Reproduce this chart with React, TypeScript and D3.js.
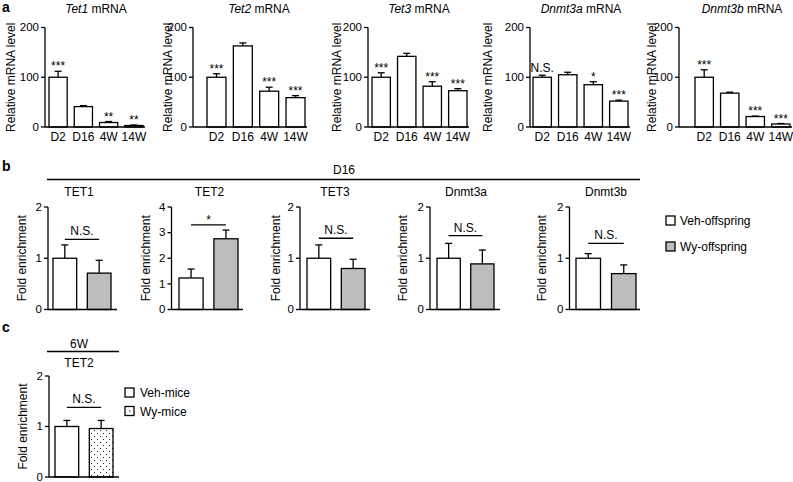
import React from "react";
import * as d3 from "d3";

// ---------- Panel a: mRNA levels ----------
const timepoints = ["D2", "D16", "4W", "14W"];
const mrnaGenes = ["Tet1", "Tet2", "Tet3", "Dnmt3a", "Dnmt3b"];
const tet1Mean = [100, 41, 9, 3];
const tet1Err = [12, 2, 2, 1];
const tet2Mean = [100, 163, 72, 59];
const tet2Err = [7, 6, 8, 4];
const tet3Mean = [100, 142, 82, 73];
const tet3Err = [9, 6, 9, 4];
const dnmt3aMean = [100, 105, 85, 52];
const dnmt3aErr = [4, 5, 6, 2];
const dnmt3bMean = [100, 68, 21, 6];
const dnmt3bErr = [15, 2, 1, 1];
const tet1Sig = ["***", "", "**", "**"];
const tet2Sig = ["***", "", "***", "***"];
const tet3Sig = ["***", "", "***", "***"];
const dnmt3aSig = ["N.S.", "", "*", "***"];
const dnmt3bSig = ["***", "", "***", "***"];
const mrnaTicks = [0, 100, 200];

// ---------- Panel b: ChIP D16 ----------
const chipTargets = ["TET1", "TET2", "TET3", "Dnmt3a", "Dnmt3b"];
const vehOffspring = [1.0, 1.23, 1.0, 1.0, 1.0];
const vehOffspringErr = [0.26, 0.35, 0.26, 0.29, 0.09];
const wyOffspring = [0.71, 2.76, 0.8, 0.89, 0.7];
const wyOffspringErr = [0.25, 0.34, 0.18, 0.27, 0.17];
const chipSig = ["N.S.", "*", "N.S.", "N.S.", "N.S."];
const chipSigLevel = [1.37, 3.3, 1.39, 1.44, 1.29];
const chipYMax = [2, 4, 2, 2, 2];
const chipGroups = ["Veh-offspring", "Wy-offspring"];

// ---------- Panel c: ChIP 6W ----------
const miceGroups = ["Veh-mice", "Wy-mice"];
const miceMean = [1.0, 0.96];
const miceErr = [0.12, 0.16];
const miceSig = "N.S.";
const miceSigLevel = 1.38;
const miceTicks = [0, 1, 2];

const FONT = "'Liberation Sans', Arial, Helvetica, sans-serif";
const SW = 1.3;
const GRAY = "#bdbdbd";

// layout (pixels)
const aAxisX = [45, 193, 368, 530, 679];
const aBarStart = [49, 207, 372, 533, 695];
const aBarEnd = [143, 305, 467, 628, 790];
const aYLabelX = [11, 168, 337, 488, 652];
const aTitleX = [96, 259, 419, 581, 742];

const bAxisX = [48, 171.5, 300, 430, 569.5];
const bBarStart = [53, 179, 307, 437, 576];
const bBarEnd = [111, 238, 365, 494, 636];
const bLineEnd = [117, 243, 370, 500, 640];
const bYLabelX = [22, 146, 276, 403, 542];
const bTitleX = [79, 209.5, 335, 466, 606];

function YAxis({ x, y, ticks }: { x: number; y: d3.ScaleLinear<number, number>; ticks: number[] }) {
  const [lo, hi] = y.domain();
  return (
    <g>
      <line x1={x} x2={x} y1={y(lo)} y2={y(hi)} stroke="#000" strokeWidth={SW} />
      {ticks.map((t) => (
        <g key={t}>
          <line x1={x - 4} x2={x} y1={y(t)} y2={y(t)} stroke="#000" strokeWidth={SW} />
          <text x={x - 6} y={y(t)} dy="0.33em" textAnchor="end" fontSize={11.5}>
            {t}
          </text>
        </g>
      ))}
    </g>
  );
}

function ErrBar({ cx, y0, y1 }: { cx: number; y0: number; y1: number }) {
  return (
    <g stroke="#000" strokeWidth={SW}>
      <line x1={cx} x2={cx} y1={y0} y2={y1} />
      <line x1={cx - 3.5} x2={cx + 3.5} y1={y1} y2={y1} />
    </g>
  );
}

export default function App() {
  const aMeans = [tet1Mean, tet2Mean, tet3Mean, dnmt3aMean, dnmt3bMean];
  const aErrs = [tet1Err, tet2Err, tet3Err, dnmt3aErr, dnmt3bErr];
  const aSigs = [tet1Sig, tet2Sig, tet3Sig, dnmt3aSig, dnmt3bSig];
  const yA = d3.scaleLinear().domain([0, 200]).range([127, 27.5]);

  return (
    <svg width={793} height={482} style={{ position: "absolute", left: 0, top: 0, background: "#fff" }} fontFamily={FONT}>
      <defs>
        <pattern id="dots" width={6} height={6} patternUnits="userSpaceOnUse">
          <rect width={6} height={6} fill="#fff" />
          <rect x={1} y={1} width={1} height={1} fill="#222" />
          <rect x={4} y={4} width={1} height={1} fill="#222" />
        </pattern>
      </defs>
      <rect width={793} height={482} fill="#fff" />

      {/* Panel letters */}
      <text x={2} y={12} fontSize={14} fontWeight="bold">a</text>
      <text x={2} y={171} fontSize={14} fontWeight="bold">b</text>
      <text x={2} y={332} fontSize={14} fontWeight="bold">c</text>

      {/* Panel a */}
      {mrnaGenes.map((g, i) => {
        const x = d3.scaleBand<string>().domain(timepoints).range([aBarStart[i], aBarEnd[i]]).paddingInner(0.28).paddingOuter(0);
        return (
          <g key={g}>
            <text x={aTitleX[i]} y={13} textAnchor="middle" fontSize={12}>
              <tspan fontStyle="italic">{g}</tspan> mRNA
            </text>
            <text transform={`translate(${aYLabelX[i]},${yA(100)}) rotate(-90)`} textAnchor="middle" dy="0.35em" fontSize={12}>
              Relative mRNA level
            </text>
            <YAxis x={aAxisX[i]} y={yA} ticks={mrnaTicks} />
            {timepoints.map((t, j) => {
              const bx = x(t)!;
              const bw = x.bandwidth();
              const top = yA(aMeans[i][j]);
              const et = yA(aMeans[i][j] + aErrs[i][j]);
              const s = aSigs[i][j];
              return (
                <g key={t}>
                  <ErrBar cx={bx + bw / 2} y0={top} y1={et} />
                  <rect x={bx} y={top} width={bw} height={yA(0) - top} fill="#fff" stroke="#000" strokeWidth={SW} />
                  {s && (
                    <text x={bx + bw / 2} y={s === "N.S." ? et - 3 : et - 1} textAnchor="middle" fontSize={12}>
                      {s}
                    </text>
                  )}
                  <text x={bx + bw / 2} y={141} textAnchor="middle" fontSize={12}>
                    {t}
                  </text>
                </g>
              );
            })}
            <line x1={aAxisX[i]} x2={aBarEnd[i] + 2} y1={yA(0)} y2={yA(0)} stroke="#000" strokeWidth={SW} />
          </g>
        );
      })}

      {/* Panel b */}
      <text x={344} y={174} textAnchor="middle" fontSize={12}>D16</text>
      <line x1={47} x2={640} y1={179.5} y2={179.5} stroke="#000" strokeWidth={SW} />
      {chipTargets.map((t, i) => {
        const yB = d3.scaleLinear().domain([0, chipYMax[i]]).range([309.5, 207]);
        const ticks = d3.range(0, chipYMax[i] + 1);
        const x = d3.scaleBand<string>().domain(chipGroups).range([bBarStart[i], bBarEnd[i]]).paddingInner(0.31).paddingOuter(0);
        const vals = [vehOffspring[i], wyOffspring[i]];
        const errs = [vehOffspringErr[i], wyOffspringErr[i]];
        const fills = ["#fff", GRAY];
        const c1 = x(chipGroups[0])! + x.bandwidth() / 2;
        const c2 = x(chipGroups[1])! + x.bandwidth() / 2;
        const sy = yB(chipSigLevel[i]);
        return (
          <g key={t}>
            <text x={bTitleX[i]} y={196} textAnchor="middle" fontSize={12}>{t}</text>
            <text transform={`translate(${bYLabelX[i]},${yB(chipYMax[i] / 2)}) rotate(-90)`} textAnchor="middle" dy="0.35em" fontSize={12}>
              Fold enrichment
            </text>
            <YAxis x={bAxisX[i]} y={yB} ticks={ticks} />
            {chipGroups.map((gname, j) => {
              const bx = x(gname)!;
              const bw = x.bandwidth();
              const top = yB(vals[j]);
              return (
                <g key={gname}>
                  <ErrBar cx={bx + bw / 2} y0={top} y1={yB(vals[j] + errs[j])} />
                  <rect x={bx} y={top} width={bw} height={yB(0) - top} fill={fills[j]} stroke="#000" strokeWidth={SW} />
                </g>
              );
            })}
            <line x1={bAxisX[i]} x2={bLineEnd[i]} y1={yB(0)} y2={yB(0)} stroke="#000" strokeWidth={SW} />
            <line x1={c1} x2={c2} y1={sy} y2={sy} stroke="#000" strokeWidth={SW} />
            <text x={(c1 + c2) / 2} y={chipSig[i] === "*" ? sy - 1 : sy - 4} textAnchor="middle" fontSize={12}>
              {chipSig[i]}
            </text>
          </g>
        );
      })}
      {chipGroups.map((g, j) => (
        <g key={g}>
          <rect x={666} y={216 + j * 26} width={9} height={9} fill={j === 0 ? "#fff" : GRAY} stroke="#000" strokeWidth={SW} />
          <text x={680} y={225 + j * 26} fontSize={12}>{g}</text>
        </g>
      ))}

      {/* Panel c */}
      {(() => {
        const yC = d3.scaleLinear().domain([0, 2]).range([477, 376]);
        const x = d3.scaleBand<string>().domain(miceGroups).range([55, 113]).paddingInner(0.31).paddingOuter(0);
        const fills = ["#fff", "url(#dots)"];
        const c1 = x(miceGroups[0])! + x.bandwidth() / 2;
        const c2 = x(miceGroups[1])! + x.bandwidth() / 2;
        const sy = yC(miceSigLevel);
        return (
          <g>
            <text x={79} y={348} textAnchor="middle" fontSize={12}>6W</text>
            <line x1={47} x2={119} y1={351.5} y2={351.5} stroke="#000" strokeWidth={SW} />
            <text x={79} y={367} textAnchor="middle" fontSize={12}>TET2</text>
            <text transform={`translate(23,${yC(1)}) rotate(-90)`} textAnchor="middle" dy="0.35em" fontSize={12}>
              Fold enrichment
            </text>
            <YAxis x={49} y={yC} ticks={miceTicks} />
            {miceGroups.map((g, j) => {
              const bx = x(g)!;
              const bw = x.bandwidth();
              const top = yC(miceMean[j]);
              return (
                <g key={g}>
                  <ErrBar cx={bx + bw / 2} y0={top} y1={yC(miceMean[j] + miceErr[j])} />
                  <rect x={bx} y={top} width={bw} height={yC(0) - top} fill={fills[j]} stroke="#000" strokeWidth={SW} />
                </g>
              );
            })}
            <line x1={49} x2={119} y1={yC(0)} y2={yC(0)} stroke="#000" strokeWidth={SW} />
            <line x1={c1} x2={c2} y1={sy} y2={sy} stroke="#000" strokeWidth={SW} />
            <text x={(c1 + c2) / 2} y={sy - 4} textAnchor="middle" fontSize={12}>{miceSig}</text>
            {miceGroups.map((g, j) => (
              <g key={g}>
                <rect x={125} y={388 + j * 18.5} width={9} height={9} fill={j === 0 ? "#fff" : "#fff"} stroke="#000" strokeWidth={SW} />
                {j === 1 && <rect x={129} y={392} width={1.2} height={1.2} fill="#222" transform={`translate(0,${18.5})`} />}
                <text x={140} y={397 + j * 18.5} fontSize={12}>{g}</text>
              </g>
            ))}
          </g>
        );
      })()}
    </svg>
  );
}
